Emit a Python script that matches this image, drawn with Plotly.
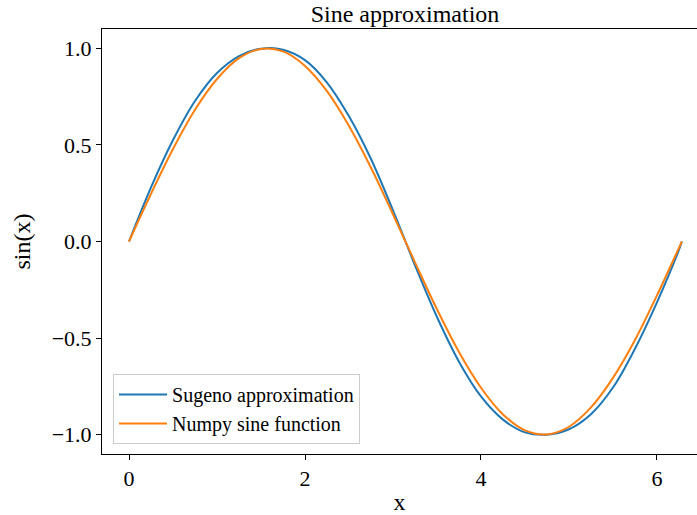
import plotly.graph_objects as go

# sample positions along x (radians)
x_vals = [0.0, 0.25, 0.5, 0.75, 1.0, 1.25, 1.5, 1.75, 2.0, 2.25, 2.5, 2.75, 3.0,
          3.25, 3.5, 3.75, 4.0, 4.25, 4.5, 4.75, 5.0, 5.25, 5.5, 5.75, 6.0, 6.25, 6.283]

# Sugeno approximation
sugeno_vals = [0.0, 0.28, 0.525, 0.727, 0.872, 0.960, 0.998, 0.993, 0.939, 0.823, 0.648, 0.427, 0.161,
               -0.123, -0.391, -0.622, -0.802, -0.922, -0.988, -1.0, -0.972, -0.894, -0.756, -0.555,
               -0.315, -0.043, 0.0]

# Numpy sine function
numpy_vals = [0.0, 0.247, 0.479, 0.682, 0.841, 0.949, 0.997, 0.984, 0.909, 0.778, 0.598, 0.382, 0.141,
              -0.108, -0.351, -0.572, -0.757, -0.895, -0.978, -0.999, -0.959, -0.859, -0.706, -0.510,
              -0.279, -0.033, 0.0]

x_ticks = [0, 2, 4, 6]
y_ticks = [-1.0, -0.5, 0.0, 0.5, 1.0]
y_tick_text = ["\u22121.0", "\u22120.5", "0.0", "0.5", "1.0"]

FONT = "Liberation Serif"

fig = go.Figure()
fig.add_trace(go.Scatter(x=x_vals, y=sugeno_vals, mode="lines", name="Sugeno approximation",
                         line=dict(color="#1f77b4", width=2, shape="spline")))
fig.add_trace(go.Scatter(x=x_vals, y=numpy_vals, mode="lines", name="Numpy sine function",
                         line=dict(color="#ff7f0e", width=2, shape="spline")))

fig.update_layout(
    width=697, height=515,
    margin=dict(l=102, r=0, t=29, b=61),
    paper_bgcolor="white", plot_bgcolor="white",
    font=dict(family=FONT, color="black", size=22),
    title=dict(text="Sine approximation", x=(405) / 697, xanchor="center",
               y=1 - 14 / 515, yanchor="middle", font=dict(size=24, family=FONT)),
    legend=dict(x=0.0185, y=0.0235, xanchor="left", yanchor="bottom",
                bgcolor="rgba(255,255,255,0.8)", bordercolor="#cccccc", borderwidth=1,
                font=dict(size=20, family=FONT), tracegroupgap=0, itemwidth=48),
    showlegend=True,
)
fig.update_xaxes(range=[-0.307, 6.455], tickvals=x_ticks, ticktext=[str(t) for t in x_ticks],
                 showgrid=False, zeroline=False, showline=True, linecolor="black", linewidth=1,
                 mirror=True, ticks="outside", ticklen=5, tickcolor="black",
                 tickfont=dict(size=22, family=FONT),
                 title=dict(text="x", font=dict(size=24, family=FONT), standoff=4))
fig.update_yaxes(range=[-1.1, 1.1], tickvals=y_ticks, ticktext=y_tick_text,
                 showgrid=False, zeroline=False, showline=True, linecolor="black", linewidth=1,
                 mirror=False, ticks="outside", ticklen=5, tickcolor="black",
                 tickfont=dict(size=22, family=FONT),
                 title=dict(text="sin(x)", font=dict(size=24, family=FONT), standoff=14))

fig.write_html("out.html")
